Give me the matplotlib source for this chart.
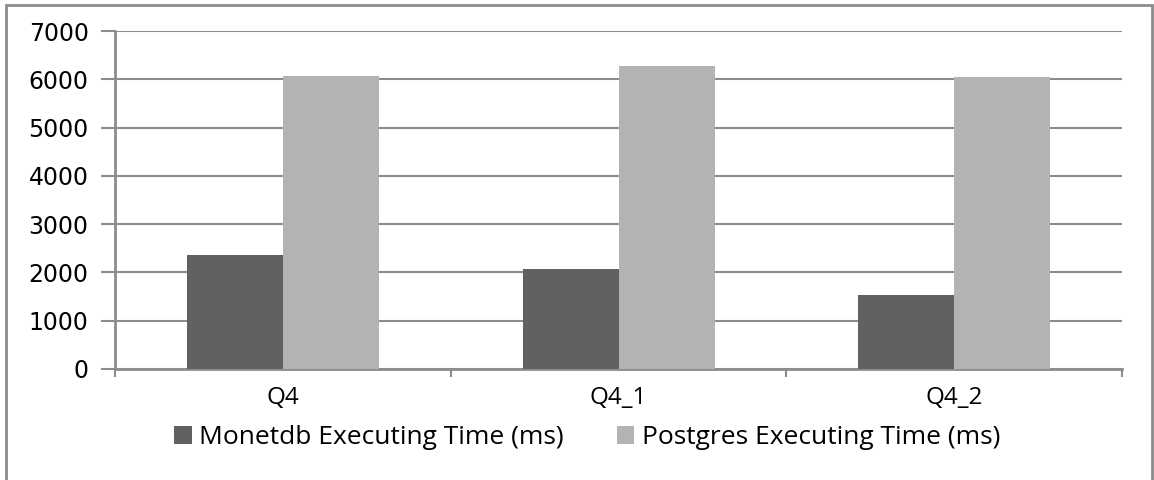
import numpy as np
import matplotlib.pyplot as plt
from matplotlib.patches import Rectangle

queries = ['Q4', 'Q4_1', 'Q4_2']
monetdb_ms = [2360, 2065, 1525]
postgres_ms = [6070, 6270, 6040]

grid_col = '#8c8c8c'

fig = plt.figure(figsize=(11.54, 4.8), dpi=100)
ax = fig.add_axes([0.0997, 0.2313, 0.8726, 0.7041])

x = np.arange(len(queries))
w = 0.286
ax.bar(x - w / 2, monetdb_ms, w, color='#616161', label='Monetdb Executing Time (ms)', zorder=3)
ax.bar(x + w / 2, postgres_ms, w, color='#b3b3b3', label='Postgres Executing Time (ms)', zorder=3)

ax.set_xlim(-0.5, len(queries) - 0.5)
ax.set_ylim(0, 7000)
ax.set_yticks(np.arange(0, 7001, 1000))
ax.yaxis.grid(True, color=grid_col, linewidth=1.5, zorder=0)

# category boundaries carry the ticks, labels sit at the centres
ax.set_xticks(np.arange(-0.5, len(queries), 1.0))
ax.set_xticklabels([])
ax.set_xticks(x, minor=True)
ax.set_xticklabels(queries, minor=True, fontsize=17.5, family='Open Sans')
ax.tick_params(axis='x', which='minor', length=0, pad=12)
ax.tick_params(axis='x', which='major', length=6, width=1.5, color=grid_col)
ax.tick_params(axis='y', length=10, width=1.5, color=grid_col, labelsize=17, pad=9)

for s in ['top', 'right']:
    ax.spines[s].set_visible(False)
for s in ['left', 'bottom']:
    ax.spines[s].set_color(grid_col)
    ax.spines[s].set_linewidth(2)

fig.legend(loc='center', bbox_to_anchor=(0.509, 0.0875), ncol=2, frameon=False,
           prop={'family': 'Open Sans', 'size': 19}, handlelength=0.65, handleheight=0.65,
           handletextpad=0.3, columnspacing=2.0)

# outer chart frame
fig.patches.append(Rectangle((6 / 1154, -0.05), 1146 / 1154, 1.04, transform=fig.transFigure,
                             fill=False, edgecolor=grid_col, linewidth=2))

fig.savefig('out.png', dpi=100)
